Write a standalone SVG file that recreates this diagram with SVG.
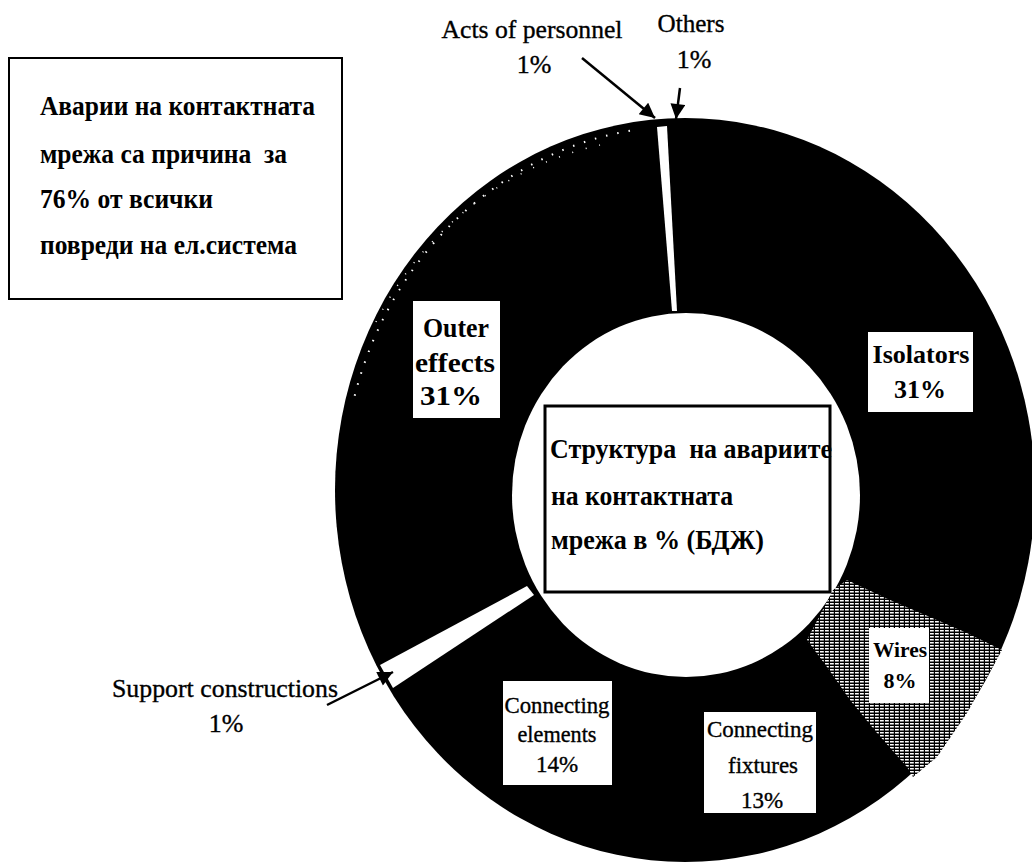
<svg xmlns="http://www.w3.org/2000/svg" width="1032" height="862" viewBox="0 0 1032 862">
  <style>
    text { white-space: pre; }
    .bold { font-family: "Liberation Serif", "DejaVu Serif", serif; font-weight: bold; fill: #000; }
    .reg { font-family: "Liberation Serif", "DejaVu Serif", serif; fill: #000; stroke: #000; stroke-width: 0.35; }
    .lbl { fill: #fff; stroke: none; }
    .gap { fill: #fff; stroke: none; }
    .conn { stroke: #000; stroke-width: 2.5; fill: none; }
  </style>
  <defs>
    <pattern id="hatch" width="5" height="3" patternUnits="userSpaceOnUse">
      <rect width="5" height="3" fill="#000"/>
      <rect x="0" y="0" width="3.8" height="1.5" fill="#fff"/>
    </pattern>
    <marker id="arrow" viewBox="0 0 10 10" refX="10" refY="5" markerWidth="18" markerHeight="15" markerUnits="userSpaceOnUse" orient="auto">
      <path d="M0,0 L10,5 L0,10 z" fill="#000"/>
    </marker>
  </defs>
  <rect width="1032" height="862" fill="#fff"/>

  <!-- Donut chart -->
  <g id="donut">
    <ellipse cx="685" cy="490" rx="350" ry="372" fill="#000"/>
    <ellipse cx="686" cy="495" rx="174" ry="182" fill="#fff"/>
    <!-- speckle texture on outer effects -->
    <path d="M 354.7 395.8 A 342 364 0 0 1 637.4 129.5" fill="none" stroke="#fff" stroke-width="2" stroke-dasharray="1.5 10"/>
    <path d="M 372 330 A 332 354 0 0 1 600 145" fill="none" stroke="#fff" stroke-width="1.5" stroke-dasharray="1 13" stroke-dashoffset="5"/>
  </g>

  <g id="seg-acts-of-personnel">
    <polygon class="gap" points="657,127 667,126 677,311 672,311"/>
  </g>
  <g id="seg-support-constructions">
    <polygon class="gap" points="380,665 527,586 534,595 393,688"/>
  </g>
  <g id="seg-wires">
    <polygon fill="url(#hatch)" points="833,590 847,580 890,600 937,620 967,633 1002,650 967,713 937,757 913,777 907,767 877,733 850,700 827,667 807,640"/>
  </g>

  <!-- Connectors -->
  <g id="connectors">
    <line class="conn" x1="582" y1="58" x2="655" y2="118" marker-end="url(#arrow)"/>
    <line class="conn" x1="680" y1="88" x2="676" y2="119" marker-end="url(#arrow)"/>
    <line class="conn" x1="327" y1="705" x2="393" y2="672" marker-end="url(#arrow)"/>
  </g>

  <!-- Info box -->
  <g id="info-box">
    <rect x="9" y="58" width="333" height="241" fill="#fff" stroke="#000" stroke-width="2"/>
    <text class="bold" font-size="27" x="40" y="115" textLength="275" lengthAdjust="spacingAndGlyphs">Аварии на контактната</text>
    <text class="bold" font-size="27" x="40" y="163" textLength="247" lengthAdjust="spacingAndGlyphs">мрежа са причина  за</text>
    <text class="bold" font-size="27" x="40" y="208" textLength="173" lengthAdjust="spacingAndGlyphs">76% от всички</text>
    <text class="bold" font-size="27" x="40" y="254" textLength="257" lengthAdjust="spacingAndGlyphs">повреди на ел.система</text>
  </g>

  <!-- Centre title box -->
  <g id="title-box">
    <rect x="545" y="406" width="285" height="186" fill="#fff" stroke="#000" stroke-width="3"/>
    <text class="bold" font-size="27" x="550" y="458" textLength="282" lengthAdjust="spacingAndGlyphs">Структура  на авариите</text>
    <text class="bold" font-size="27" x="551" y="505" textLength="182" lengthAdjust="spacingAndGlyphs">на контактната</text>
    <text class="bold" font-size="27" x="551" y="549" textLength="213" lengthAdjust="spacingAndGlyphs">мрежа в % (БДЖ)</text>
  </g>

  <!-- Segment labels -->
  <g id="label-acts">
    <text class="reg" font-size="26" x="532" y="38" text-anchor="middle" textLength="181" lengthAdjust="spacingAndGlyphs">Acts of personnel</text>
    <text class="reg" font-size="26" x="534" y="73" text-anchor="middle">1%</text>
  </g>
  <g id="label-others">
    <text class="reg" font-size="26" x="691" y="32" text-anchor="middle" textLength="67" lengthAdjust="spacingAndGlyphs">Others</text>
    <text class="reg" font-size="26" x="694" y="68" text-anchor="middle">1%</text>
  </g>
  <g id="label-support">
    <text class="reg" font-size="26" x="225" y="697" text-anchor="middle" textLength="226" lengthAdjust="spacingAndGlyphs">Support constructions</text>
    <text class="reg" font-size="26" x="226" y="732" text-anchor="middle">1%</text>
  </g>
  <g id="label-outer-effects">
    <rect class="lbl" x="413" y="301" width="87" height="117"/>
    <text class="bold" font-size="28" x="456" y="337" text-anchor="middle" textLength="66" lengthAdjust="spacingAndGlyphs">Outer</text>
    <text class="bold" font-size="28" x="455" y="372" text-anchor="middle" textLength="80" lengthAdjust="spacingAndGlyphs">effects</text>
    <text class="bold" font-size="28" x="451" y="405" text-anchor="middle" textLength="62" lengthAdjust="spacingAndGlyphs">31%</text>
  </g>
  <g id="label-isolators">
    <rect class="lbl" x="868" y="332" width="105" height="80"/>
    <text class="bold" font-size="26" x="921" y="363" text-anchor="middle" textLength="97" lengthAdjust="spacingAndGlyphs">Isolators</text>
    <text class="bold" font-size="26" x="920" y="398" text-anchor="middle">31%</text>
  </g>
  <g id="label-wires">
    <rect class="lbl" x="869" y="628" width="60" height="75"/>
    <text class="bold" font-size="22" x="900" y="657" text-anchor="middle" textLength="54" lengthAdjust="spacingAndGlyphs">Wires</text>
    <text class="bold" font-size="22" x="900" y="688" text-anchor="middle">8%</text>
  </g>
  <g id="label-connecting-fixtures">
    <rect class="lbl" x="704" y="712" width="112" height="101"/>
    <text class="reg" font-size="23" x="760" y="737" text-anchor="middle" textLength="106" lengthAdjust="spacingAndGlyphs">Connecting</text>
    <text class="reg" font-size="23" x="763" y="773" text-anchor="middle" textLength="70" lengthAdjust="spacingAndGlyphs">fixtures</text>
    <text class="reg" font-size="23" x="762" y="808" text-anchor="middle">13%</text>
  </g>
  <g id="label-connecting-elements">
    <rect class="lbl" x="503" y="681" width="109" height="104"/>
    <text class="reg" font-size="23" x="557" y="713" text-anchor="middle" textLength="105" lengthAdjust="spacingAndGlyphs">Connecting</text>
    <text class="reg" font-size="23" x="557" y="742" text-anchor="middle" textLength="79" lengthAdjust="spacingAndGlyphs">elements</text>
    <text class="reg" font-size="23" x="557" y="772" text-anchor="middle">14%</text>
  </g>
</svg>
